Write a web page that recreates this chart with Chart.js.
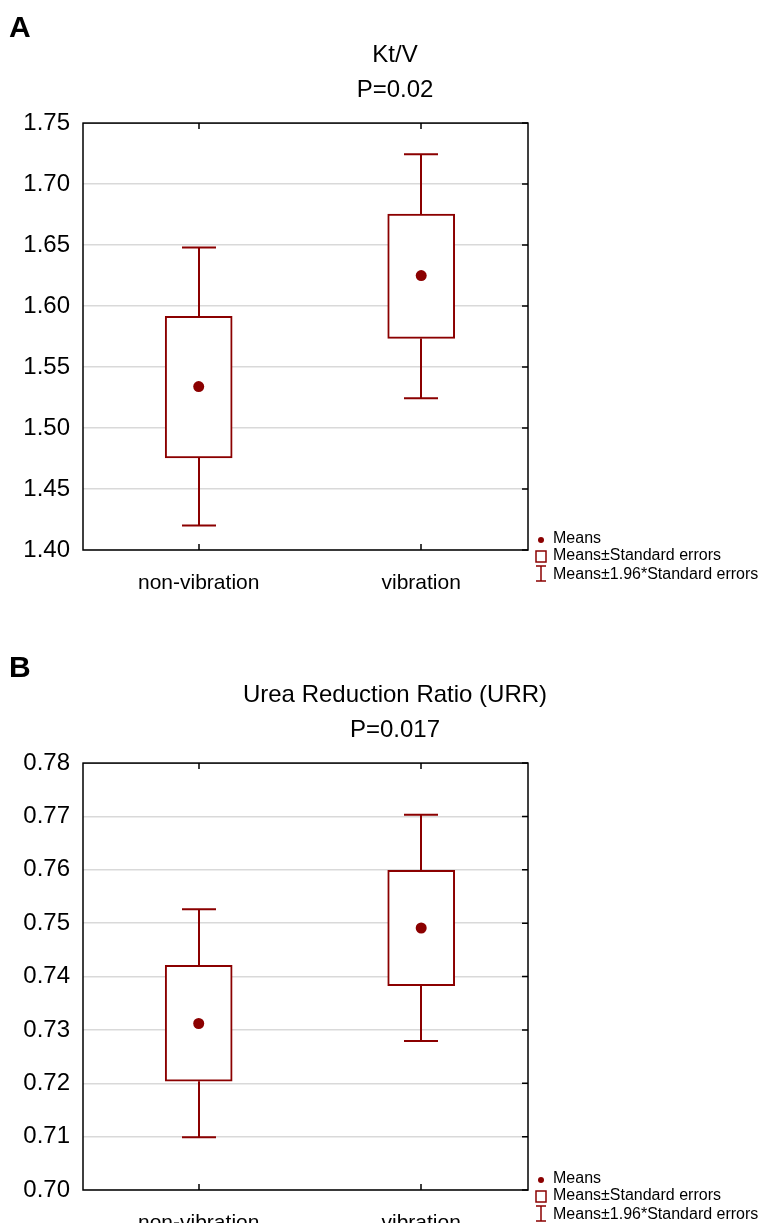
<!DOCTYPE html>
<html>
<head>
<meta charset="utf-8">
<script src="https://cdn.jsdelivr.net/npm/chart.js@4"></script>
<style>
  body { margin: 0; background: #fff; overflow: hidden; }
  .panel { position: absolute; left: 0; width: 761px; height: 600px; }
</style>
</head>
<body>
<div class="panel" style="top:0"><canvas id="chartA" width="761" height="600"></canvas></div>
<div class="panel" style="top:640px"><canvas id="chartB" width="761" height="600"></canvas></div>
<script>
const categories = ["non-vibration", "vibration"]

// Kt/V
const ktvMean = [1.534, 1.625]
const ktvSeLow = [1.4755, 1.5735]
const ktvSeHigh = [1.5915, 1.6755]
const ktvCiLow = [1.42, 1.5245]
const ktvCiHigh = [1.648, 1.7245]
const ktvTicks = [1.40, 1.45, 1.50, 1.55, 1.60, 1.65, 1.70, 1.75]

// URR
const urrMean = [0.7312, 0.7491]
const urrSeLow = [0.7204, 0.7383]
const urrSeHigh = [0.7421, 0.7599]
const urrCiLow = [0.7099, 0.7279]
const urrCiHigh = [0.7526, 0.7703]
const urrTicks = [0.70, 0.71, 0.72, 0.73, 0.74, 0.75, 0.76, 0.77, 0.78]

const RED = "#8b0000"
const FONT = "'Liberation Sans', Arial, sans-serif"

const boxDecor = {
  id: "boxDecor",
  beforeDatasetsDraw(chart, args, opts) {
    const { ctx } = chart
    const xs = chart.scales.x
    const ys = chart.scales.y
    ctx.save()
    ctx.strokeStyle = RED
    ctx.lineWidth = 2
    opts.ciLow.forEach((lo, i) => {
      const x = Math.round(xs.getPixelForValue(i))
      const yHi = ys.getPixelForValue(opts.ciHigh[i])
      const yLo = ys.getPixelForValue(lo)
      ctx.beginPath()
      ctx.moveTo(x, yHi)
      ctx.lineTo(x, ys.getPixelForValue(opts.seHigh[i]))
      ctx.moveTo(x, ys.getPixelForValue(opts.seLow[i]))
      ctx.lineTo(x, yLo)
      ctx.moveTo(x - 17, yHi)
      ctx.lineTo(x + 17, yHi)
      ctx.moveTo(x - 17, yLo)
      ctx.lineTo(x + 17, yLo)
      ctx.stroke()
    })
    ctx.restore()
  },
  afterDraw(chart, args, opts) {
    const { ctx, chartArea: a } = chart
    const xs = chart.scales.x
    const ys = chart.scales.y
    ctx.save()
    // frame
    ctx.strokeStyle = "#000"
    ctx.lineWidth = 1.5
    ctx.strokeRect(a.left, a.top, a.right - a.left, a.bottom - a.top)
    // inward ticks
    ctx.beginPath()
    categories.forEach((c, i) => {
      const x = Math.round(xs.getPixelForValue(i))
      ctx.moveTo(x, a.top)
      ctx.lineTo(x, a.top + 6)
      ctx.moveTo(x, a.bottom)
      ctx.lineTo(x, a.bottom - 6)
    })
    opts.yTicks.forEach((v) => {
      const y = ys.getPixelForValue(v)
      ctx.moveTo(a.right, y)
      ctx.lineTo(a.right - 6, y)
    })
    ctx.stroke()

    // legend
    const lx = a.right + 12
    const b = a.bottom
    ctx.fillStyle = RED
    ctx.beginPath()
    ctx.arc(lx + 1, b - 10, 3, 0, Math.PI * 2)
    ctx.fill()
    ctx.strokeStyle = RED
    ctx.lineWidth = 1.5
    ctx.strokeRect(lx - 4, b + 1, 10, 11)
    ctx.beginPath()
    ctx.moveTo(lx + 1, b + 16)
    ctx.lineTo(lx + 1, b + 31)
    ctx.moveTo(lx - 4, b + 16)
    ctx.lineTo(lx + 6, b + 16)
    ctx.moveTo(lx - 4, b + 31)
    ctx.lineTo(lx + 6, b + 31)
    ctx.stroke()
    ctx.fillStyle = "#000"
    ctx.font = "16px " + FONT
    ctx.textBaseline = "middle"
    ctx.fillText("Means", lx + 13, b - 11)
    ctx.fillText("Means\u00b1Standard errors", lx + 13, b + 6)
    ctx.fillText("Means\u00b11.96*Standard errors", lx + 13, b + 25)

    // panel letter
    ctx.font = "bold 30px " + FONT
    ctx.fillText(opts.letter, 9, 29)
    ctx.restore()
  },
}

function makeChart(id, letter, title, pText, mean, seLow, seHigh, ciLow, ciHigh, yTicks) {
  const el = document.getElementById(id)
  return new Chart(el, {
    type: "bar",
    data: {
      datasets: [
        {
          type: "scatter",
          data: mean.map((m, i) => ({ x: i, y: m })),
          pointRadius: 5.5,
          pointBackgroundColor: RED,
          pointBorderWidth: 0,
          order: 0,
        },
        {
          type: "bar",
          data: seLow.map((lo, i) => ({ x: i, y: [lo, seHigh[i]] })),
          backgroundColor: "#fff",
          borderColor: RED,
          borderWidth: 2,
          borderSkipped: false,
          barThickness: 67,
          order: 1,
        },
      ],
    },
    options: {
      responsive: false,
      animation: false,
      events: [],
      // negative right padding shifts the title centre to the right
      layout: { padding: { left: 0, right: -29, top: 0, bottom: 0 } },
      plugins: {
        legend: { display: false },
        tooltip: { enabled: false },
        title: {
          display: true,
          text: title,
          color: "#000",
          font: { family: FONT, size: 24, weight: "normal" },
          padding: { top: 41, bottom: 3 },
        },
        subtitle: {
          display: true,
          text: pText,
          color: "#000",
          font: { family: FONT, size: 24, weight: "normal" },
          padding: { top: 3, bottom: 18.5 },
        },
        boxDecor: { letter, seLow, seHigh, ciLow, ciHigh, yTicks },
      },
      scales: {
        x: {
          type: "linear",
          position: "bottom",
          min: -0.52,
          max: 1.48,
          offset: false,
          grid: { display: false, offset: false },
          border: { display: false },
          afterBuildTicks: (s) => { s.ticks = categories.map((c, i) => ({ value: i })) },
          afterFit: (s) => { s.height = 50 },
          ticks: {
            color: "#000",
            padding: 13,
            font: { family: FONT, size: 21 },
            callback: (v) => categories[v],
          },
        },
        y: {
          type: "linear",
          position: "left",
          min: yTicks[0],
          max: yTicks[yTicks.length - 1],
          grid: { color: "#d9d9d9", lineWidth: 1.5, drawTicks: false },
          border: { display: false },
          afterBuildTicks: (s) => { s.ticks = yTicks.map((v) => ({ value: v })) },
          afterFit: (s) => { s.width = 83 },
          ticks: {
            color: "#000",
            padding: 13,
            font: { family: FONT, size: 24 },
            callback: (v) => v.toFixed(2),
          },
        },
        yR: {
          type: "linear",
          position: "right",
          min: 0,
          max: 1,
          grid: { display: false },
          border: { display: false },
          ticks: { display: false },
          afterFit: (s) => { s.width = 262 },
        },
      },
    },
    plugins: [boxDecor],
  })
}

document.addEventListener("DOMContentLoaded", () => {
  makeChart("chartA", "A", "Kt/V", "P=0.02", ktvMean, ktvSeLow, ktvSeHigh, ktvCiLow, ktvCiHigh, ktvTicks)
  makeChart("chartB", "B", "Urea Reduction Ratio (URR)", "P=0.017", urrMean, urrSeLow, urrSeHigh, urrCiLow, urrCiHigh, urrTicks)
})
</script>
</body>
</html>
